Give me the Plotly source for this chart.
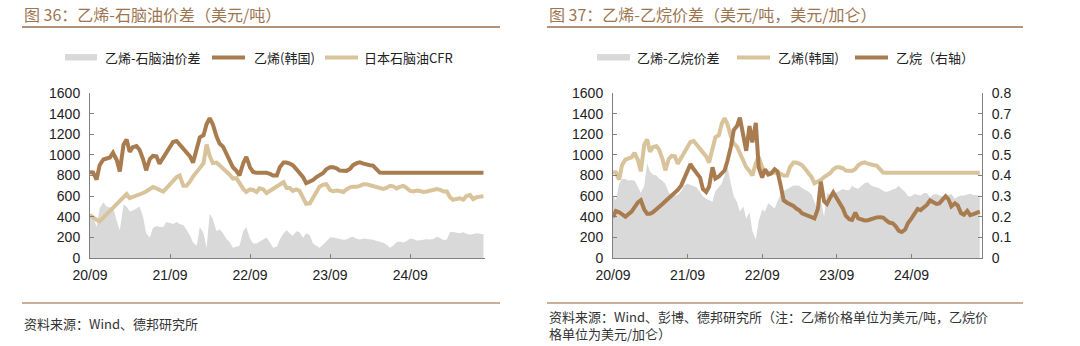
import pandas as pd
import plotly.graph_objects as go

# ---------------- data (semi-monthly, 2020-09-01 .. 2025-08-01) ----------------
dates = pd.date_range("2020-09-01", periods=119, freq="SMS")

ethylene_korea = [
    832, 830, 760, 900, 955, 965, 975, 1020, 950, 840,
    1100, 1150, 1030, 1075, 1085, 1050, 960, 850, 960, 990,
    985, 915, 970, 1030, 1080, 1125, 1135, 1100, 1050, 1020,
    985, 925, 1050, 1170, 1190, 1300, 1355, 1300, 1180, 1110,
    1080, 1020, 940, 880, 845, 800, 920, 980, 880, 835,
    826, 826, 826, 826, 815, 800, 800, 880, 925, 925,
    915, 900, 860, 825, 784, 725, 736, 755, 785, 805,
    825, 860, 880, 880, 870, 848, 842, 845, 864, 900,
    920, 928, 915, 905, 900, 896, 860, 828, 826, 826,
    826, 826, 826, 826, 826, 826, 826, 826, 826, 826,
    826, 826, 826, 826, 826, 826, 826, 826, 826, 826,
    826, 826, 826, 826, 826, 826, 826, 826, 826,
]

naphtha_japan_cfr = [
    416, 390, 370, 355, 390, 425, 455, 485, 520, 550,
    590, 620, 580, 590, 605, 620, 630, 645, 665, 688,
    675, 660, 645, 675, 710, 750, 785, 800, 700, 700,
    740, 790, 835, 865, 920, 1100, 990, 920, 925, 900,
    860, 840, 805, 770, 775, 720, 670, 640, 665, 660,
    640, 675, 665, 630, 650, 672, 700, 715, 735, 680,
    680, 650, 665, 650, 580, 525, 530, 575, 640, 690,
    710, 715, 660, 645, 655, 650, 640, 665, 685, 690,
    690, 700, 715, 715, 705, 695, 680, 672, 670, 680,
    700, 695, 675, 690, 700, 680, 650, 645, 655, 650,
    640, 645, 655, 660, 668, 660, 645, 645, 590, 565,
    570, 578, 565, 600, 610, 570, 590, 592, 600,
]

spread_naphtha = [
    432, 400, 300, 480, 540, 500, 490, 500, 360, 270,
    520, 500, 450, 460, 480, 500, 400, 240, 200, 290,
    310, 300, 300, 350, 340, 330, 350, 330, 320, 270,
    220, 150, 120, 300, 240, 100, 430, 380, 260, 280,
    240, 190, 150, 100, 110, 120, 260, 300, 190, 140,
    140, 160, 180, 200, 150, 100, 110, 180, 240, 270,
    240, 215, 260, 250, 195, 240, 220, 140, 120, 100,
    130, 160, 200, 200, 195, 185, 178, 180, 200, 205,
    185, 180, 190, 188, 182, 178, 165, 155, 148, 130,
    100, 120, 155, 160, 150, 165, 190, 185, 170, 172,
    180, 182, 180, 185, 205, 195, 172, 180, 250, 255,
    245, 240, 250, 235, 225, 230, 240, 235, 230,
]

spread_ethane = [
    606, 560, 720, 765, 765, 752, 755, 752, 690, 630,
    700, 920, 840, 810, 800, 768, 750, 720, 635, 610,
    606, 610, 650, 700, 719, 710, 703, 687, 640, 600,
    575, 560, 545, 650, 695, 720, 800, 890, 720, 600,
    540, 450, 500, 380, 445, 260, 180, 360, 470, 450,
    530, 510, 480, 550, 620, 650, 671, 690, 703, 703,
    700, 680, 665, 645, 615, 540, 460, 560, 400, 630,
    610, 620, 640, 655, 668, 660, 658, 700, 680, 672,
    703, 725, 735, 705, 690, 685, 671, 650, 640, 655,
    665, 672, 700, 670, 640, 600, 600, 620, 615, 606,
    630, 630, 590, 615, 620, 606, 598, 590, 610, 620,
    574, 595, 606, 606, 615, 623, 612, 606, 606,
]

ethane = [
    0.198, 0.228, 0.222, 0.210, 0.200, 0.212, 0.225, 0.245, 0.270, 0.280,
    0.235, 0.215, 0.215, 0.222, 0.239, 0.250, 0.262, 0.275, 0.290, 0.300,
    0.320, 0.330, 0.352, 0.385, 0.420, 0.455, 0.430, 0.410, 0.390, 0.335,
    0.320, 0.345, 0.440, 0.385, 0.395, 0.410, 0.424, 0.470, 0.540, 0.620,
    0.640, 0.680, 0.600, 0.520, 0.640, 0.560, 0.655, 0.440, 0.390, 0.430,
    0.405, 0.410, 0.430, 0.420, 0.350, 0.280, 0.268, 0.262, 0.252, 0.240,
    0.232, 0.217, 0.210, 0.205, 0.200, 0.192, 0.239, 0.370, 0.275, 0.262,
    0.295, 0.318, 0.290, 0.265, 0.240, 0.205, 0.188, 0.185, 0.220, 0.192,
    0.185, 0.182, 0.183, 0.188, 0.190, 0.197, 0.198, 0.196, 0.182, 0.172,
    0.168, 0.155, 0.132, 0.126, 0.138, 0.170, 0.192, 0.215, 0.238, 0.232,
    0.245, 0.257, 0.279, 0.271, 0.262, 0.265, 0.285, 0.300, 0.285, 0.250,
    0.265, 0.255, 0.218, 0.210, 0.228, 0.208, 0.213, 0.218, 0.225,
]

title_left = "图 36：乙烯-石脑油价差（美元/吨）"
title_right = "图 37：乙烯-乙烷价差（美元/吨，美元/加仑）"
legend_left = ["乙烯-石脑油价差", "乙烯(韩国)", "日本石脑油CFR"]
legend_right = ["乙烯-乙烷价差", "乙烯(韩国)", "乙烷（右轴）"]
source_left = "资料来源：Wind、德邦研究所"
source_right = ("资料来源：Wind、彭博、德邦研究所（注：乙烯价格单位为美元/吨，乙烷价"
                "<br>格单位为美元/加仑）")

# ---------------- style ----------------
W, H = 1080, 346
BROWN = "#a97c50"
TAN = "#d8c39b"
GRAY = "#d9d9d9"
TITLE_C = "#9c7652"
AXIS_C = "#808080"
TXT = "#222222"
FONT = "Liberation Sans, Arial, Noto Sans CJK SC"
CJK = "Noto Sans CJK SC, Liberation Sans"
LW = 4


def px(x):
    return x / W


def py(y):
    return 1 - y / H


fig = go.Figure()

# left chart
fig.add_trace(go.Scatter(x=dates, y=spread_naphtha, mode="lines", fill="tozeroy",
                         line=dict(width=0, color=GRAY), fillcolor=GRAY,
                         xaxis="x", yaxis="y", showlegend=False))
fig.add_trace(go.Scatter(x=dates, y=naphtha_japan_cfr, mode="lines",
                         line=dict(width=LW, color=TAN),
                         xaxis="x", yaxis="y", showlegend=False))
fig.add_trace(go.Scatter(x=dates, y=ethylene_korea, mode="lines",
                         line=dict(width=LW, color=BROWN),
                         xaxis="x", yaxis="y", showlegend=False))

# right chart
fig.add_trace(go.Scatter(x=dates, y=spread_ethane, mode="lines", fill="tozeroy",
                         line=dict(width=0, color=GRAY), fillcolor=GRAY,
                         xaxis="x2", yaxis="y2", showlegend=False))
fig.add_trace(go.Scatter(x=dates, y=ethylene_korea, mode="lines",
                         line=dict(width=LW, color=TAN),
                         xaxis="x2", yaxis="y2", showlegend=False))
fig.add_trace(go.Scatter(x=dates, y=ethane, mode="lines",
                         line=dict(width=LW, color=BROWN),
                         xaxis="x2", yaxis="y3", showlegend=False))

ydom = [py(258), py(93)]
common_x = dict(type="date", tickformat="%y/%m", dtick="M12", tick0="2020-09-01",
                ticks="inside", ticklen=4, tickcolor=AXIS_C, showline=True,
                linecolor=AXIS_C, linewidth=1, showgrid=False, zeroline=False,
                automargin=False, ticklabelstandoff=4,
                tickfont=dict(family=FONT, size=14, color=TXT))
common_y = dict(range=[0, 1600], dtick=200, ticks="inside", ticklen=4,
                tickcolor=AXIS_C, showline=True, linecolor=AXIS_C, linewidth=1,
                showgrid=False, zeroline=False, automargin=False,
                ticklabelstandoff=6,
                tickfont=dict(family=FONT, size=14, color=TXT))

fig.update_layout(
    template="none",
    width=W, height=H, margin=dict(l=0, r=0, t=0, b=0, pad=0),
    paper_bgcolor="white", plot_bgcolor="white", showlegend=False,
    xaxis=dict(domain=[px(90), px(485)], anchor="y",
               range=["2020-09-01", "2025-08-08"], **common_x),
    yaxis=dict(domain=ydom, anchor="x", **common_y),
    xaxis2=dict(domain=[px(613), px(982)], anchor="y2",
                range=["2020-09-01", "2025-08-12"], **common_x),
    yaxis2=dict(domain=ydom, anchor="x2", **common_y),
    yaxis3=dict(overlaying="y2", side="right", anchor="x2", range=[0, 0.8],
                dtick=0.1, ticks="inside", ticklen=4, tickcolor=AXIS_C,
                showline=True, linecolor=AXIS_C, linewidth=1, showgrid=False,
                zeroline=False, automargin=False, ticklabelstandoff=6,
                tickfont=dict(family=FONT, size=14, color=TXT)),
)

shapes = []
annotations = []

# titles and rules
for x0, x1, title in [(22, 500, title_left), (547, 1023, title_right)]:
    annotations.append(dict(x=px(x0), y=py(14), xref="paper", yref="paper",
                            text=title, showarrow=False, xanchor="left",
                            yanchor="middle",
                            font=dict(family=CJK, size=16, color=TITLE_C)))
    shapes.append(dict(type="line", xref="paper", yref="paper",
                       x0=px(x0), x1=px(x1), y0=py(27), y1=py(27),
                       line=dict(color="#b4927a", width=2)))
    shapes.append(dict(type="line", xref="paper", yref="paper",
                       x0=px(x0), x1=px(x1), y0=py(303), y1=py(303),
                       line=dict(color="#c9ae98", width=2)))

# sources
annotations.append(dict(x=px(22), y=py(323), xref="paper", yref="paper",
                        text=source_left, showarrow=False, xanchor="left",
                        yanchor="middle",
                        font=dict(family=CJK, size=13, color="#333333")))
annotations.append(dict(x=px(547), y=py(305), xref="paper", yref="paper",
                        text=source_right, showarrow=False, xanchor="left",
                        yanchor="top", align="left",
                        font=dict(family=CJK, size=13, color="#333333")))


# legends
def legend_items(items):
    for kind, color, x0, x1, tx, label in items:
        if kind == "box":
            shapes.append(dict(type="rect", xref="paper", yref="paper",
                               x0=px(x0), x1=px(x1), y0=py(60.5), y1=py(54),
                               fillcolor=color, line=dict(width=0)))
        else:
            shapes.append(dict(type="line", xref="paper", yref="paper",
                               x0=px(x0), x1=px(x1), y0=py(57.5), y1=py(57.5),
                               line=dict(color=color, width=LW)))
        annotations.append(dict(x=px(tx), y=py(57.5), xref="paper", yref="paper",
                                text=label, showarrow=False, xanchor="left",
                                yanchor="middle",
                                font=dict(family=CJK, size=13, color=TXT)))


legend_items([
    ("box", GRAY, 65, 97, 103, legend_left[0]),
    ("line", BROWN, 212, 245, 252, legend_left[1]),
    ("line", TAN, 325, 358, 362, legend_left[2]),
])
legend_items([
    ("box", GRAY, 597, 630, 635, legend_right[0]),
    ("line", TAN, 737, 770, 776, legend_right[1]),
    ("line", BROWN, 855, 888, 894, legend_right[2]),
])

fig.update_layout(shapes=shapes, annotations=annotations)
fig.write_html("out.html")
